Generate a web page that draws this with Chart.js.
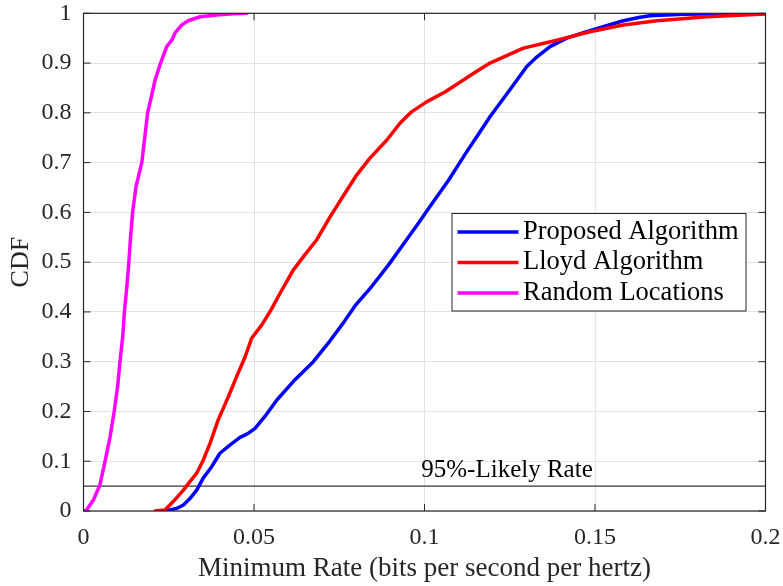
<!DOCTYPE html>
<html>
<head>
<meta charset="utf-8">
<script src="https://cdn.jsdelivr.net/npm/chart.js@4/dist/chart.umd.min.js"></script>
<style>
  html, body { margin: 0; padding: 0; background: #ffffff; }
  #wrap { width: 783px; height: 586px; }
</style>
</head>
<body>
<div id="wrap"><canvas id="cdf" width="783" height="586"></canvas></div>
<script>
// Empirical CDFs of the minimum rate (bits per second per hertz)
const proposedRate = [0.0239, 0.0273, 0.0293, 0.0312, 0.0332, 0.0351, 0.0376, 0.0400, 0.0430, 0.0459,
  0.0483, 0.0503, 0.0532, 0.0567, 0.0615, 0.0674, 0.0723, 0.0762, 0.0796, 0.0845,
  0.0894, 0.0938, 0.0982, 0.1016, 0.1070, 0.1124, 0.1163, 0.1192, 0.1251, 0.1300,
  0.1329, 0.1368, 0.1417, 0.1466, 0.1524, 0.1583, 0.1632, 0.1661, 0.1759, 0.1993];
const proposedCdf = [0.000, 0.005, 0.012, 0.025, 0.042, 0.066, 0.089, 0.116, 0.133, 0.148,
  0.156, 0.166, 0.190, 0.223, 0.260, 0.300, 0.342, 0.378, 0.412, 0.451,
  0.494, 0.536, 0.578, 0.612, 0.664, 0.722, 0.762, 0.792, 0.847, 0.893,
  0.912, 0.933, 0.950, 0.961, 0.973, 0.985, 0.992, 0.995, 0.998, 1.000];

const lloydRate = [0.0210, 0.0239, 0.0263, 0.0293, 0.0312, 0.0332, 0.0351, 0.0371, 0.0395, 0.0425,
  0.0449, 0.0474, 0.0493, 0.0523, 0.0550, 0.0576, 0.0615, 0.0645, 0.0684, 0.0723,
  0.0757, 0.0801, 0.0840, 0.0889, 0.0928, 0.0962, 0.1006, 0.1060, 0.1114, 0.1143,
  0.1192, 0.1290, 0.1388, 0.1485, 0.1583, 0.1681, 0.1828, 0.2000];
const lloydCdf = [0.000, 0.002, 0.019, 0.042, 0.059, 0.076, 0.102, 0.136, 0.183, 0.230,
  0.270, 0.310, 0.347, 0.374, 0.404, 0.437, 0.484, 0.511, 0.545, 0.591,
  0.628, 0.675, 0.709, 0.745, 0.779, 0.802, 0.822, 0.842, 0.866, 0.879,
  0.900, 0.930, 0.946, 0.963, 0.9765, 0.985, 0.993, 0.9986];

const randomRate = [0.0004, 0.0009, 0.0029, 0.0048, 0.0063, 0.0078, 0.0090, 0.0100, 0.0107, 0.0115,
  0.0120, 0.0127, 0.0133, 0.0138, 0.0144, 0.0154, 0.0171, 0.0188, 0.0197, 0.0210,
  0.0226, 0.0244, 0.0259, 0.0268, 0.0288, 0.0307, 0.0342, 0.0390, 0.0439, 0.0479];
const randomCdf = [0.000, 0.002, 0.022, 0.052, 0.099, 0.149, 0.200, 0.250, 0.300, 0.350,
  0.400, 0.450, 0.500, 0.550, 0.600, 0.652, 0.700, 0.800, 0.826, 0.866,
  0.900, 0.933, 0.946, 0.960, 0.9765, 0.985, 0.993, 0.9966, 0.999, 1.000];

// 95%-likely rate reference level (CDF = 0.05)
const outageLevel = 0.05;
const outageLabel = '95%-Likely Rate';

const seriesNames = ['Proposed Algorithm', 'Lloyd Algorithm', 'Random Locations'];
const xTickLabels = ['0', '0.05', '0.1', '0.15', '0.2'];
const yTickLabels = ['0', '0.1', '0.2', '0.3', '0.4', '0.5', '0.6', '0.7', '0.8', '0.9', '1'];
const xTitle = 'Minimum Rate (bits per second per hertz)';
const yTitle = 'CDF';

const toPoints = (xs, ys) => xs.map((x, i) => ({ x: x, y: ys[i] }));

const SERIF = '"Liberation Serif", "Times New Roman", serif';
const AXIS_COLOR = '#262626';

// Frame, inward ticks, reference label and legend box
const decorations = {
  id: 'decorations',
  afterDatasetsDraw(chart) {
    const { ctx, chartArea: a, scales: { x, y } } = chart;
    ctx.save();

    // annotation above the reference line
    ctx.fillStyle = '#000000';
    ctx.font = '25px ' + SERIF;
    ctx.textAlign = 'center';
    ctx.textBaseline = 'alphabetic';
    ctx.fillText(outageLabel, x.getPixelForValue(0.1242), y.getPixelForValue(0.069));

    // axes box
    ctx.strokeStyle = AXIS_COLOR;
    ctx.lineWidth = 1.2;
    ctx.strokeRect(a.left, a.top, a.right - a.left, a.bottom - a.top);

    // inward ticks on all four sides
    const tl = 7;
    ctx.lineWidth = 1;
    ctx.beginPath();
    x.ticks.forEach(t => {
      const px = x.getPixelForValue(t.value);
      ctx.moveTo(px, a.bottom); ctx.lineTo(px, a.bottom - tl);
      ctx.moveTo(px, a.top); ctx.lineTo(px, a.top + tl);
    });
    y.ticks.forEach(t => {
      const py = y.getPixelForValue(t.value);
      ctx.moveTo(a.left, py); ctx.lineTo(a.left + tl, py);
      ctx.moveTo(a.right, py); ctx.lineTo(a.right - tl, py);
    });
    ctx.stroke();

    // legend
    const box = { x: 452, y: 213.5, w: 294, h: 97.5 };
    ctx.fillStyle = '#ffffff';
    ctx.fillRect(box.x, box.y, box.w, box.h);
    ctx.strokeStyle = AXIS_COLOR;
    ctx.lineWidth = 1;
    ctx.strokeRect(box.x, box.y, box.w, box.h);
    ctx.font = '26.5px ' + SERIF;
    ctx.textAlign = 'left';
    ctx.textBaseline = 'middle';
    seriesNames.forEach((name, i) => {
      const ds = chart.data.datasets.find(d => d.label === name);
      const ry = box.y + 18.5 + i * 30.5;
      ctx.strokeStyle = ds.borderColor;
      ctx.lineWidth = 3.5;
      ctx.beginPath();
      ctx.moveTo(box.x + 5.5, ry);
      ctx.lineTo(box.x + 66.5, ry);
      ctx.stroke();
      ctx.fillStyle = '#000000';
      ctx.fillText(name, box.x + 71, ry);
    });
    ctx.restore();
  }
};

new Chart(document.getElementById('cdf'), {
  type: 'scatter',
  data: {
    datasets: [
      { label: seriesNames[0], data: toPoints(proposedRate, proposedCdf), borderColor: '#0000ff', order: 3 },
      { label: seriesNames[1], data: toPoints(lloydRate, lloydCdf), borderColor: '#ff0000', order: 2 },
      { label: seriesNames[2], data: toPoints(randomRate, randomCdf), borderColor: '#ff00ff', order: 1 },
      { label: outageLabel, data: [{ x: 0, y: outageLevel }, { x: 0.2, y: outageLevel }],
        borderColor: '#000000', borderWidth: 1, order: 4 }
    ].map(d => Object.assign({ showLine: true, pointRadius: 0, borderWidth: 3.5, tension: 0,
      fill: false, backgroundColor: d.borderColor, borderJoinStyle: 'round', borderCapStyle: 'round' }, d))
  },
  options: {
    responsive: false,
    animation: false,
    devicePixelRatio: 1,
    layout: { padding: { left: 0, right: 17.5, top: 13.3, bottom: 0 } },
    plugins: { legend: { display: false }, tooltip: { enabled: false } },
    scales: {
      x: {
        type: 'linear', min: 0, max: 0.2,
        ticks: {
          stepSize: 0.05, autoSkip: false, maxRotation: 0, padding: 12,
          color: AXIS_COLOR, font: { family: SERIF, size: 24 },
          callback: (v, i) => xTickLabels[i]
        },
        grid: { color: '#e3e3e3', lineWidth: 1, drawTicks: false },
        border: { display: false },
        title: { display: true, text: xTitle, color: AXIS_COLOR,
          font: { family: SERIF, size: 27 }, padding: { top: 0, bottom: 1 } },
        afterFit(s) { s.height = 75; s.paddingLeft = 0; s.paddingRight = 0; }
      },
      y: {
        type: 'linear', min: 0, max: 1,
        ticks: {
          stepSize: 0.1, autoSkip: false, padding: 12,
          color: AXIS_COLOR, font: { family: SERIF, size: 24 },
          callback: (v, i) => yTickLabels[i]
        },
        grid: { color: '#e3e3e3', lineWidth: 1, drawTicks: false },
        border: { display: false },
        title: { display: true, text: yTitle, color: AXIS_COLOR,
          font: { family: SERIF, size: 26 }, padding: { top: 6, bottom: 0 } },
        afterFit(s) { s.width = 83.5; s.paddingTop = 0; s.paddingBottom = 0; }
      }
    }
  },
  plugins: [decorations]
});
</script>
</body>
</html>
